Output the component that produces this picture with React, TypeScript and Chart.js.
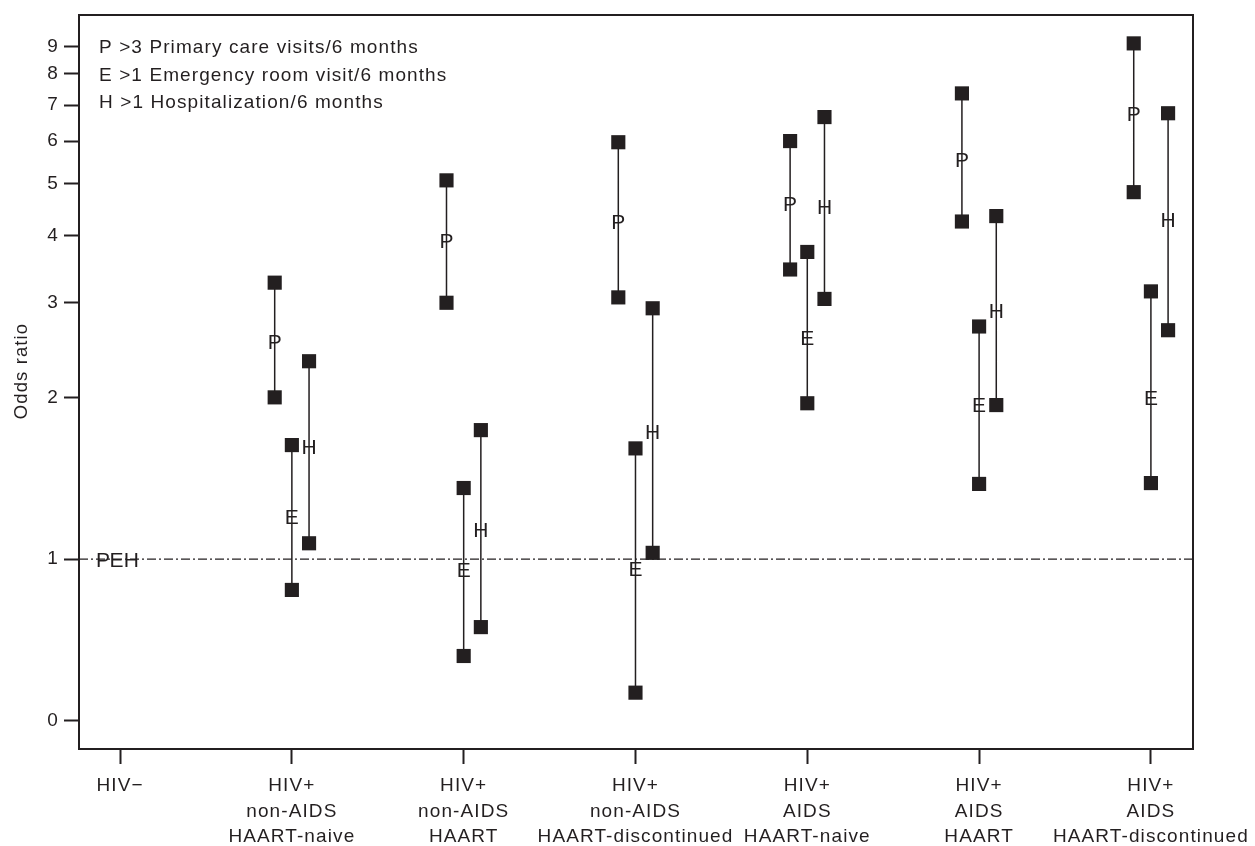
import React, { useEffect, useRef } from "react";
import { Chart, registerables } from "chart.js";

Chart.register(...registerables);

// ---------- data ----------
const categories: string[][] = [
  ["HIV\u2212"],
  ["HIV+", "non-AIDS", "HAART-naive"],
  ["HIV+", "non-AIDS", "HAART"],
  ["HIV+", "non-AIDS", "HAART-discontinued"],
  ["HIV+", "AIDS", "HAART-naive"],
  ["HIV+", "AIDS", "HAART"],
  ["HIV+", "AIDS", "HAART-discontinued"],
];

const yTickValues = [0.5, 1, 2, 3, 4, 5, 6, 7, 8, 9];
const yTickLabels = ["0", "1", "2", "3", "4", "5", "6", "7", "8", "9"];

const seriesLetters = ["P", "E", "H"];

const primaryEst = [1, 2.54, 3.92, 4.25, 4.6, 5.55, 6.76];
const primaryLow = [null, 2.0, 3.0, 3.07, 3.46, 4.25, 4.82];
const primaryHigh = [null, 3.27, 5.07, 5.97, 6.0, 7.36, 9.12];

const emergencyEst = [1, 1.2, 0.958, 0.961, 2.59, 1.94, 2.0];
const emergencyLow = [null, 0.876, 0.66, 0.564, 1.95, 1.38, 1.385];
const emergencyHigh = [null, 1.63, 1.356, 1.607, 3.73, 2.71, 3.15];

const hospEst = [1, 1.62, 1.137, 1.725, 4.54, 2.906, 4.29];
const hospLow = [null, 1.07, 0.747, 1.027, 3.05, 1.935, 2.667];
const hospHigh = [null, 2.335, 1.738, 2.93, 6.65, 4.35, 6.76];

const legendLines = [
  "P >3 Primary care visits/6 months",
  "E >1 Emergency room visit/6 months",
  "H >1 Hospitalization/6 months",
];
const yAxisTitle = "Odds ratio";
const referenceOR = 1;

// ---------- styling constants ----------
const INK = "#231f20";
const FONT = "'Liberation Sans', Arial, Helvetica, sans-serif";
const LETTER_SPACING = "1.1px";
const X_MIN = -0.239;
const X_MAX = 6.245;
const Y_MIN = 0.443;
const Y_MAX = 10.3;
const SERIES_OFFSETS = [-0.1, 0, 0.1];
const REF_OFFSETS = [-0.1, -0.02, 0.065];

const estimates = [primaryEst, emergencyEst, hospEst];
const lows = [primaryLow, emergencyLow, hospLow];
const highs = [primaryHigh, emergencyHigh, hospHigh];

function xFor(catIndex: number, s: number) {
  return catIndex + (catIndex === 0 ? REF_OFFSETS[s] : SERIES_OFFSETS[s]);
}

const decorPlugin = {
  id: "decor",
  beforeDraw(chart: any) {
    // wider text tracking, as in the reference typesetting
    (chart.ctx as any).letterSpacing = LETTER_SPACING;
  },
  beforeDatasetsDraw(chart: any) {
    const { ctx, chartArea: a } = chart;
    ctx.save();
    ctx.strokeStyle = INK;
    ctx.lineWidth = 2;
    ctx.strokeRect(a.left, a.top, a.right - a.left, a.bottom - a.top);
    ctx.restore();
  },
  afterDatasetsDraw(chart: any) {
    const { ctx } = chart;
    ctx.save();
    ctx.fillStyle = INK;
    // estimate letters
    const lf = 21;
    ctx.letterSpacing = "0px";
    ctx.font = `${lf}px ${FONT}`;
    ctx.textAlign = "center";
    ctx.textBaseline = "alphabetic";
    chart.data.datasets.forEach((ds: any, di: number) => {
      if (!ds.letter) return;
      const meta = chart.getDatasetMeta(di);
      meta.data.forEach((pt: any) => {
        ctx.fillText(ds.letter, pt.x, pt.y + 0.358 * lf);
      });
    });
    // legend text
    ctx.letterSpacing = LETTER_SPACING;
    const gf = 19;
    ctx.font = `${gf}px ${FONT}`;
    ctx.textAlign = "left";
    const centers = [46.5, 74, 101.5];
    legendLines.forEach((t, i) => {
      ctx.fillText(t, 99, centers[i] + 0.358 * gf);
    });
    // y axis title
    const tf = 18.5;
    ctx.font = `${tf}px ${FONT}`;
    ctx.translate(20.5, 371);
    ctx.rotate(-Math.PI / 2);
    ctx.textAlign = "center";
    ctx.fillText(yAxisTitle, 0, 0.358 * tf);
    ctx.restore();
  },
};

export default function App() {
  const canvasRef = useRef<HTMLCanvasElement | null>(null);

  useEffect(() => {
    if (!canvasRef.current) return;
    const datasets: any[] = [];

    // reference line at OR = 1
    datasets.push({
      type: "line",
      data: [
        { x: X_MIN, y: referenceOR },
        { x: X_MAX, y: referenceOR },
      ],
      borderColor: INK,
      borderWidth: 1.3,
      borderDash: [9, 3, 2, 3],
      pointRadius: 0,
      showLine: true,
      order: 5,
    });

    seriesLetters.forEach((letter, s) => {
      const ciData: any[] = [];
      categories.forEach((_, i) => {
        const lo = lows[s][i];
        const hi = highs[s][i];
        if (lo == null || hi == null) return;
        ciData.push({ x: xFor(i, s), y: lo });
        ciData.push({ x: xFor(i, s), y: hi });
        ciData.push({ x: xFor(i, s), y: null });
      });
      datasets.push({
        type: "line",
        label: letter + " CI",
        data: ciData,
        borderColor: INK,
        borderWidth: 1.5,
        spanGaps: false,
        showLine: true,
        pointStyle: "rect",
        pointRadius: 10,
        pointHoverRadius: 10,
        pointBackgroundColor: INK,
        pointBorderWidth: 0,
        order: 2,
      });
      datasets.push({
        type: "scatter",
        label: letter,
        letter,
        data: categories.map((_, i) => ({ x: xFor(i, s), y: estimates[s][i] })),
        pointRadius: 0,
        showLine: false,
        order: 1,
      });
    });

    const chart = new Chart(canvasRef.current, {
      type: "scatter",
      data: { datasets },
      options: {
        animation: false,
        responsive: false,
        maintainAspectRatio: false,
        events: [],
        layout: { padding: { left: 0, top: 15, right: 62, bottom: 0 } },
        plugins: {
          legend: { display: false },
          tooltip: { enabled: false },
          title: { display: false },
        },
        scales: {
          x: {
            type: "linear",
            min: X_MIN,
            max: X_MAX,
            afterBuildTicks: (scale: any) => {
              scale.ticks = categories.map((_, i) => ({ value: i }));
            },
            afterFit: (scale: any) => {
              scale.height = 97;
              scale.paddingLeft = 0;
              scale.paddingRight = 0;
            },
            border: { display: false },
            grid: {
              display: true,
              drawOnChartArea: false,
              drawTicks: true,
              tickLength: 15,
              tickWidth: 2,
              tickColor: INK,
              color: INK,
            },
            ticks: {
              autoSkip: false,
              maxRotation: 0,
              minRotation: 0,
              padding: 9,
              color: INK,
              font: { family: FONT, size: 19, lineHeight: 1.35 },
              callback: (value: any) => categories[Math.round(Number(value))] ?? "",
            },
          },
          y: {
            type: "logarithmic",
            min: Y_MIN,
            max: Y_MAX,
            afterBuildTicks: (scale: any) => {
              scale.ticks = yTickValues.map((v) => ({ value: v }));
            },
            afterFit: (scale: any) => {
              scale.width = 79;
              scale.paddingTop = 0;
              scale.paddingBottom = 0;
            },
            border: { display: false },
            grid: {
              display: true,
              drawOnChartArea: false,
              drawTicks: true,
              tickLength: 15,
              tickWidth: 2,
              tickColor: INK,
              color: INK,
            },
            ticks: {
              autoSkip: false,
              padding: 5,
              color: INK,
              font: { family: FONT, size: 19 },
              callback: (value: any) => {
                const idx = yTickValues.findIndex((v) => Math.abs(v - Number(value)) < 1e-9);
                return idx >= 0 ? yTickLabels[idx] : "";
              },
            },
          },
        },
      },
      plugins: [decorPlugin],
    } as any);

    return () => chart.destroy();
  }, []);

  return (
    <div style={{ position: "fixed", left: 0, top: 0, width: 1255, height: 846, background: "#fff" }}>
      <canvas ref={canvasRef} width={1255} height={846} style={{ display: "block" }} />
    </div>
  );
}
